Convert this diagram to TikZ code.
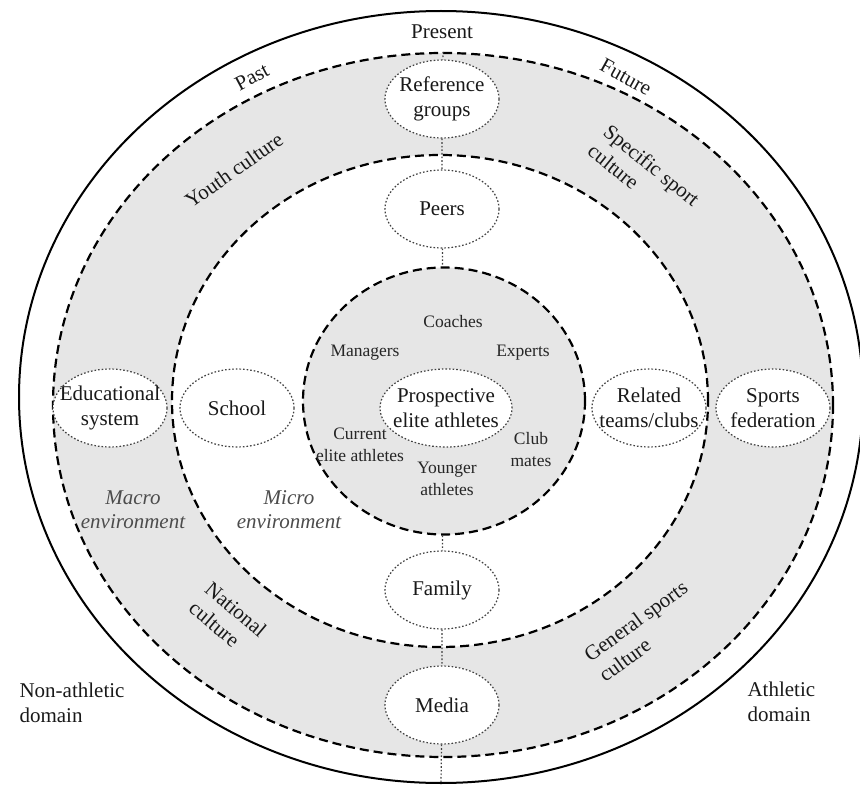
\documentclass[tikz,border=0pt]{standalone}
\usepackage{fontspec}
\setmainfont{Liberation Serif}
\usepackage{tikz}
\usetikzlibrary{shapes.geometric}
\definecolor{ringgrey}{RGB}{230,230,230}
\tikzstyle{zone} = [ellipse, draw, line width=2.2pt, dash pattern=on 9pt off 5pt, inner sep=0pt]
\tikzstyle{actor} = [ellipse, draw=black!75, line width=1.2pt, dash pattern=on 1.6pt off 2pt, fill=white, minimum width=114pt, minimum height=78pt, inner sep=0pt]
\tikzstyle{link} = [draw=black!75, line width=1.2pt, dash pattern=on 1.6pt off 2pt]
\tikzstyle{big} = [font=\fontsize{21}{25}\selectfont, align=center, text=black!90]
\tikzstyle{small} = [font=\fontsize{17.5}{22}\selectfont, align=center, text=black!85]
\tikzstyle{env} = [font=\fontsize{21}{24}\selectfont\itshape, align=center, text=black!70]

\begin{document}
\begin{tikzpicture}[x=1pt,y=-1pt]
	\useasboundingbox (0,0) rectangle (860,789);
	% rings
	\node[ellipse, draw, line width=2pt, minimum width=844pt, minimum height=772pt] (world) at (441,397) {};
	\node[zone, fill=ringgrey, minimum width=780pt, minimum height=704pt] (macro) at (443,405) {};
	\node[zone, fill=white, minimum width=536pt, minimum height=492pt] (micro) at (440,401) {};
	\node[zone, fill=ringgrey, minimum width=282pt, minimum height=267pt] (core) at (444,401) {};
	% actors
	\node[actor] (refgroups) at (442,99) {};
	\node[actor] (peers) at (442,209) {};
	\node[actor] (family) at (442,590) {};
	\node[actor] (media) at (442,705) {};
	\node[actor] (edu) at (110,408) {};
	\node[actor] (school) at (237,408) {};
	\node[actor, minimum width=132pt] (athletes) at (446,408) {};
	\node[actor] (related) at (649,408) {};
	\node[actor] (federation) at (773,408) {};
	\draw[link] (macro.north) -- (refgroups)
		(refgroups) -- (peers)
		(peers) -- (core)
		(core) -- (family)
		(family) -- (media)
		(media) -- (world.south);
	\node[big] (refgroupsT) at (refgroups) {Reference\\groups};
	\node[big] (peersT) at (peers) {Peers};
	\node[big] (familyT) at (family) {Family};
	\node[big] (mediaT) at (media) {Media};
	\node[big] (eduT) at (edu) {Educational\\system};
	\node[big] (schoolT) at (school) {School};
	\node[big] (athletesT) at (athletes) {Prospective\\elite athletes};
	\node[big] (relatedT) at (related) {Related\\teams/clubs};
	\node[big] (federationT) at (federation) {Sports\\federation};
	% inner circle
	\node[small] (coaches) at (453,322) {Coaches};
	\node[small] (managers) at (365,353) {Managers};
	\node[small] (experts) at (523,353) {Experts};
	\node[small] (current) at (360,445) {Current\\elite athletes};
	\node[small] (younger) at (447,479) {Younger\\athletes};
	\node[small] (clubmates) at (531,450) {Club\\mates};
	% ring labels
	\node[big] (present) at (442,32) {Present};
	\node[big, rotate=28] (past) at (252,77) {Past};
	\node[big, rotate=-29] (future) at (626,77) {Future};
	\node[big, rotate=35] (youth) at (234,170) {Youth culture};
	\node[big, rotate=-39, align=left] (specific) at (644,175) {Specific sport\\culture};
	\node[big, rotate=-40, align=left] (national) at (228,619) {National\\culture};
	\node[big, rotate=36, align=left] (general) at (643,631) {General sports\\culture};
	\node[env] (macroenv) at (133,510) {Macro\\environment};
	\node[env] (microenv) at (289,510) {Micro\\environment};
	\node[big, align=left, anchor=west] (nonathletic) at (16,703) {Non-athletic\\domain};
	\node[big, align=left, anchor=west] (athletic) at (744,702) {Athletic\\domain};
\end{tikzpicture}
\end{document}
